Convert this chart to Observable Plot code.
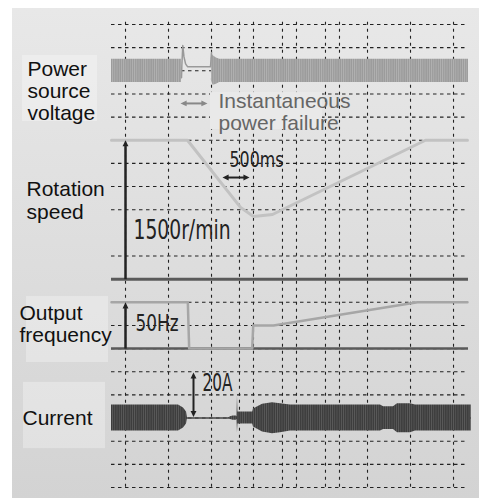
<!DOCTYPE html>
<html><head><meta charset="utf-8">
<script src="https://cdn.jsdelivr.net/npm/d3@7"></script>
<script src="https://cdn.jsdelivr.net/npm/@observablehq/plot@0.6"></script>
<style>
html,body{margin:0;padding:0;background:#fff;}
#wrap{position:relative;width:479px;height:498px;overflow:hidden;background:#fff;}
#panel{position:absolute;left:12px;top:8px;right:0;bottom:0;background:linear-gradient(#e8e8e8,#d3d3d3);}
#chart{position:absolute;left:0;top:0;}
</style></head><body>
<div id="wrap"><div id="panel"></div><div id="chart"></div></div>
<script>
// ---- labels ----
const channelLabels = ["Power\nsource\nvoltage", "Rotation\nspeed", "Output\nfrequency", "Current"];
const failureLabel = "Instantaneous\npower failure";
const scaleLabels = ["1500r/min", "500ms", "50Hz", "20A"];

// ---- oscilloscope grid (time in ms, rows in divisions) ----
const gridTimes = [259, 1054, 1849, 2366, 2625, 3161, 3420, 3956, 4215, 4733, 5528, 6323];
const gridRows = [0, 1, 2, 3, 4, 5, 6, 7, 8, 10, 11, 12, 13, 14, 15, 16, 17, 18, 19, 20];

// ---- power source voltage (relative, divisions) ----
const voltageBandTime  = [0, 1294, 1849, 1880, 1940, 2000, 6600];
const voltageBandSeg   = [0, 0, 1, 1, 1, 1, 1];
const voltageBandUpper = [0.5, 0.5, 0.79, 0.65, 0.55, 0.5, 0.5];
const voltageBandLower = [-0.5, -0.5, -0.45, -0.62, -0.58, -0.5, -0.5];
const voltageGapTime   = [1294, 1300, 1318, 1340, 1370, 1405, 1830, 1840, 1849];
const voltageGapValue  = [-0.3, 0.2, 1.09, 0.6, 0.3, 0.18, 0.17, 0.5, 0.79];

// ---- rotation speed (r/min) ----
const speedTime = [0, 1405, 2385, 2625, 2976, 5805, 6581];
const speedRpm  = [1500, 1500, 775, 677, 698, 1500, 1500];

// ---- output frequency (Hz) ----
const freqTime = [0, 1411, 1436, 2601, 2620, 2995, 5657, 6581];
const freqHz   = [50, 50, 0, 0, 25, 25, 50, 50];

// ---- current envelope (A) ----
const currentTime  = [0, 1239, 1331, 1387, 1405, 2163, 2200, 2250, 2310, 2320, 2329, 2338, 2348, 2610, 2625, 2792, 2976, 3124, 3309, 4973, 5030, 5213, 5287, 5528, 5620, 6650];
const currentUpper = [5.6, 5.6, 4.3, 2.6, 0, 0, 0.6, 0.9, 0.9, 0.5, 9.5, 2.6, 2.6, 2.6, 3.9, 6.0, 6.6, 6.2, 5.6, 5.6, 4.9, 4.9, 6.2, 6.2, 5.6, 5.6];
const currentLower = [-5.6, -5.6, -4.3, -2.6, 0, 0, -0.6, -0.9, -0.9, -0.5, -6.5, -2.6, -2.6, -2.6, -3.9, -6.0, -6.8, -6.4, -5.6, -5.6, -4.9, -4.9, -6.3, -6.3, -5.6, -5.6];

// channel -> screen divisions (row 0 at top)
const toDiv = {
  voltage: v => 2 - v,
  speed: r => 11 - r / 250,
  freq: f => 14 - f / 25,
  current: a => 17 - a / 10
};

const vBand = voltageBandTime.map((t, i) => ({t, seg: voltageBandSeg[i], hi: voltageBandUpper[i], lo: voltageBandLower[i]}));
const vGap = voltageGapTime.map((t, i) => ({t, v: voltageGapValue[i]}));
const speed = speedTime.map((t, i) => ({t, v: speedRpm[i]}));
const freq = freqTime.map((t, i) => ({t, v: freqHz[i]}));
const cur = currentTime.map((t, i) => ({t, hi: currentUpper[i], lo: currentLower[i]}));

// custom filled arrowheads, apex at the data point
function tri(dir) {
  return {draw(ctx, size) {
    const s = Math.sqrt(size), L = s * 1.15, W = s * 0.55;
    ctx.moveTo(0, 0);
    if (dir === "up") { ctx.lineTo(W, L); ctx.lineTo(-W, L); }
    if (dir === "down") { ctx.lineTo(W, -L); ctx.lineTo(-W, -L); }
    if (dir === "left") { ctx.lineTo(L, W); ctx.lineTo(L, -W); }
    if (dir === "right") { ctx.lineTo(-L, W); ctx.lineTo(-L, -W); }
    ctx.closePath();
  }};
}

const dark = "#222";
const sans = "Arial, 'Liberation Sans', Helvetica, sans-serif";
const condensed = "'Liberation Sans Narrow', 'DejaVu Sans Condensed', sans-serif";

const chart = Plot.plot({
  width: 479,
  height: 498,
  x: {domain: [0, 6600], range: [111, 468], axis: null},
  y: {domain: [0, 20], range: [24, 487], axis: null},
  style: {background: "transparent", overflow: "visible"},
  marks: [
    // label boxes (left)
    Plot.rect([0], {x1: -1645, x2: -259, y1: 1.34, y2: 4.19, fill: "white", fillOpacity: 0.3}),
    Plot.rect([0], {x1: -1571, x2: -55, y1: 11.75, y2: 14.6, fill: "white", fillOpacity: 0.3}),
    Plot.rect([0], {x1: -1627, x2: -111, y1: 15.46, y2: 18.32, fill: "white", fillOpacity: 0.3}),
    // grid
    Plot.ruleY(gridRows, {y: d => d, x1: 0, x2: 6600, stroke: "#222", strokeWidth: 1.1, strokeDasharray: "3.5,3.5"}),
    Plot.ruleX(gridTimes, {x: d => d, y1: -0.1, y2: 20.1, stroke: "#222", strokeWidth: 1.1, strokeDasharray: "3,4"}),
    // failure label box
    Plot.rect([0], {x1: 1830, x2: 3901, y1: 2.94, y2: 4.54, fill: "#e9e9e9"}),
    // zero baselines
    Plot.ruleY([0], {y: d => toDiv.speed(d), x1: 0, x2: 6600, stroke: "#5a5a5a", strokeWidth: 3}),
    Plot.ruleY([0], {y: d => toDiv.freq(d), x1: 0, x2: 6600, stroke: "#5a5a5a", strokeWidth: 2.5}),
    // voltage
    Plot.areaY(vBand, {x: "t", y1: d => toDiv.voltage(d.lo), y2: d => toDiv.voltage(d.hi), z: "seg", fill: "url(#vpat)"}),
    Plot.line(vGap, {x: "t", y: d => toDiv.voltage(d.v), stroke: "#999", strokeWidth: 1.5}),
    // speed
    Plot.line(speed, {x: "t", y: d => toDiv.speed(d.v), stroke: "#c2c2c2", strokeWidth: 3}),
    // frequency
    Plot.line(freq, {x: "t", y: d => toDiv.freq(d.v), stroke: "#a6a6a6", strokeWidth: 2.5}),
    // current
    Plot.ruleY([0], {y: d => toDiv.current(d), x1: 0, x2: 6650, stroke: "#444", strokeWidth: 1.5}),
    Plot.areaY(cur, {x: "t", y1: d => toDiv.current(d.lo), y2: d => toDiv.current(d.hi), fill: "url(#cpat)"}),
    // arrows: shafts
    Plot.link([
      {x1: 259, y1: 11, x2: 259, y2: 5.25, c: dark, w: 2.5},
      {x1: 259, y1: 14, x2: 259, y2: 12.25, c: dark, w: 2.5},
      {x1: 1516, y1: 15.2, x2: 1516, y2: 16.8, c: dark, w: 2},
      {x1: 1330, y1: 3.41, x2: 1720, y2: 3.41, c: "#888", w: 2},
      {x1: 2110, y1: 6.61, x2: 2495, y2: 6.61, c: dark, w: 2}
    ], {x1: "x1", y1: "y1", x2: "x2", y2: "y2", stroke: "c", strokeWidth: "w"}),
    // arrows: heads
    Plot.dot([{x: 259, y: 5.0}, {x: 259, y: 12.0}, {x: 1516, y: 15.03}], {x: "x", y: "y", symbol: tri("up"), r: 3, fill: dark, stroke: "none"}),
    Plot.dot([{x: 1516, y: 16.96}], {x: "x", y: "y", symbol: tri("down"), r: 3, fill: dark, stroke: "none"}),
    Plot.dot([{x: 1276, y: 3.41}], {x: "x", y: "y", symbol: tri("left"), r: 3, fill: "#888", stroke: "none"}),
    Plot.dot([{x: 1775, y: 3.41}], {x: "x", y: "y", symbol: tri("right"), r: 3, fill: "#888", stroke: "none"}),
    Plot.dot([{x: 2052, y: 6.61}], {x: "x", y: "y", symbol: tri("left"), r: 3, fill: dark, stroke: "none"}),
    Plot.dot([{x: 2552, y: 6.61}], {x: "x", y: "y", symbol: tri("right"), r: 3, fill: dark, stroke: "none"}),
    // channel labels
    Plot.text([channelLabels[0]], {x: -1553, y: 2.89, text: d => d, textAnchor: "start", lineAnchor: "middle", lineHeight: 1.05, fontSize: 21, fontFamily: sans, fill: "#111"}),
    Plot.text([channelLabels[1]], {x: -1571, y: 7.6, text: d => d, textAnchor: "start", lineAnchor: "middle", lineHeight: 1.05, fontSize: 21, fontFamily: sans, fill: "#111"}),
    Plot.text([channelLabels[2]], {x: -1701, y: 12.92, text: d => d, textAnchor: "start", lineAnchor: "middle", lineHeight: 1.05, fontSize: 21, fontFamily: sans, fill: "#111"}),
    Plot.text([channelLabels[3]], {x: -1645, y: 17.02, text: d => d, textAnchor: "start", lineAnchor: "middle", fontSize: 21, fontFamily: sans, fill: "#111"}),
    Plot.text([failureLabel], {x: 1978, y: 3.76, text: d => d, textAnchor: "start", lineAnchor: "middle", lineHeight: 1.05, fontSize: 21, fontFamily: sans, fill: "#666"}),
    // scale labels
    Plot.text([scaleLabels[0]], {x: 407, y: 8.9, text: d => d, textAnchor: "start", lineAnchor: "middle", fontSize: 27, fontFamily: condensed, fill: dark}),
    Plot.text([scaleLabels[1]], {x: 2181, y: 5.87, text: d => d, textAnchor: "start", lineAnchor: "middle", fontSize: 22, fontFamily: condensed, fill: dark}),
    Plot.text([scaleLabels[2]], {x: 444, y: 12.94, text: d => d, textAnchor: "start", lineAnchor: "middle", fontSize: 23, fontFamily: condensed, fill: dark}),
    Plot.text([scaleLabels[3]], {x: 1682, y: 15.5, text: d => d, textAnchor: "start", lineAnchor: "middle", fontSize: 25, fontFamily: condensed, fill: dark})
  ]
});

// stripe patterns for the dense waveforms
const defs = d3.select(chart).insert("defs", ":first-child");
const vp = defs.append("pattern").attr("id", "vpat").attr("patternUnits", "userSpaceOnUse").attr("width", 2.2).attr("height", 4);
vp.append("rect").attr("width", 2.2).attr("height", 4).attr("fill", "#9a9a9a");
vp.append("rect").attr("width", 0.9).attr("height", 4).attr("fill", "#b2b2b2");
const cp = defs.append("pattern").attr("id", "cpat").attr("patternUnits", "userSpaceOnUse").attr("width", 2.2).attr("height", 4);
cp.append("rect").attr("width", 2.2).attr("height", 4).attr("fill", "#3c3c3c");
cp.append("rect").attr("width", 0.8).attr("height", 4).attr("fill", "#5c5c5c");

// condensed label widths as in the original artwork
const labelWidths = {"1500r/min": 97, "500ms": 54, "50Hz": 43, "20A": 30};
d3.select(chart).selectAll("text").each(function() {
  const w = labelWidths[this.textContent];
  if (w) { this.setAttribute("textLength", w); this.setAttribute("lengthAdjust", "spacingAndGlyphs"); }
});

document.getElementById("chart").appendChild(chart);
</script>
</body></html>
